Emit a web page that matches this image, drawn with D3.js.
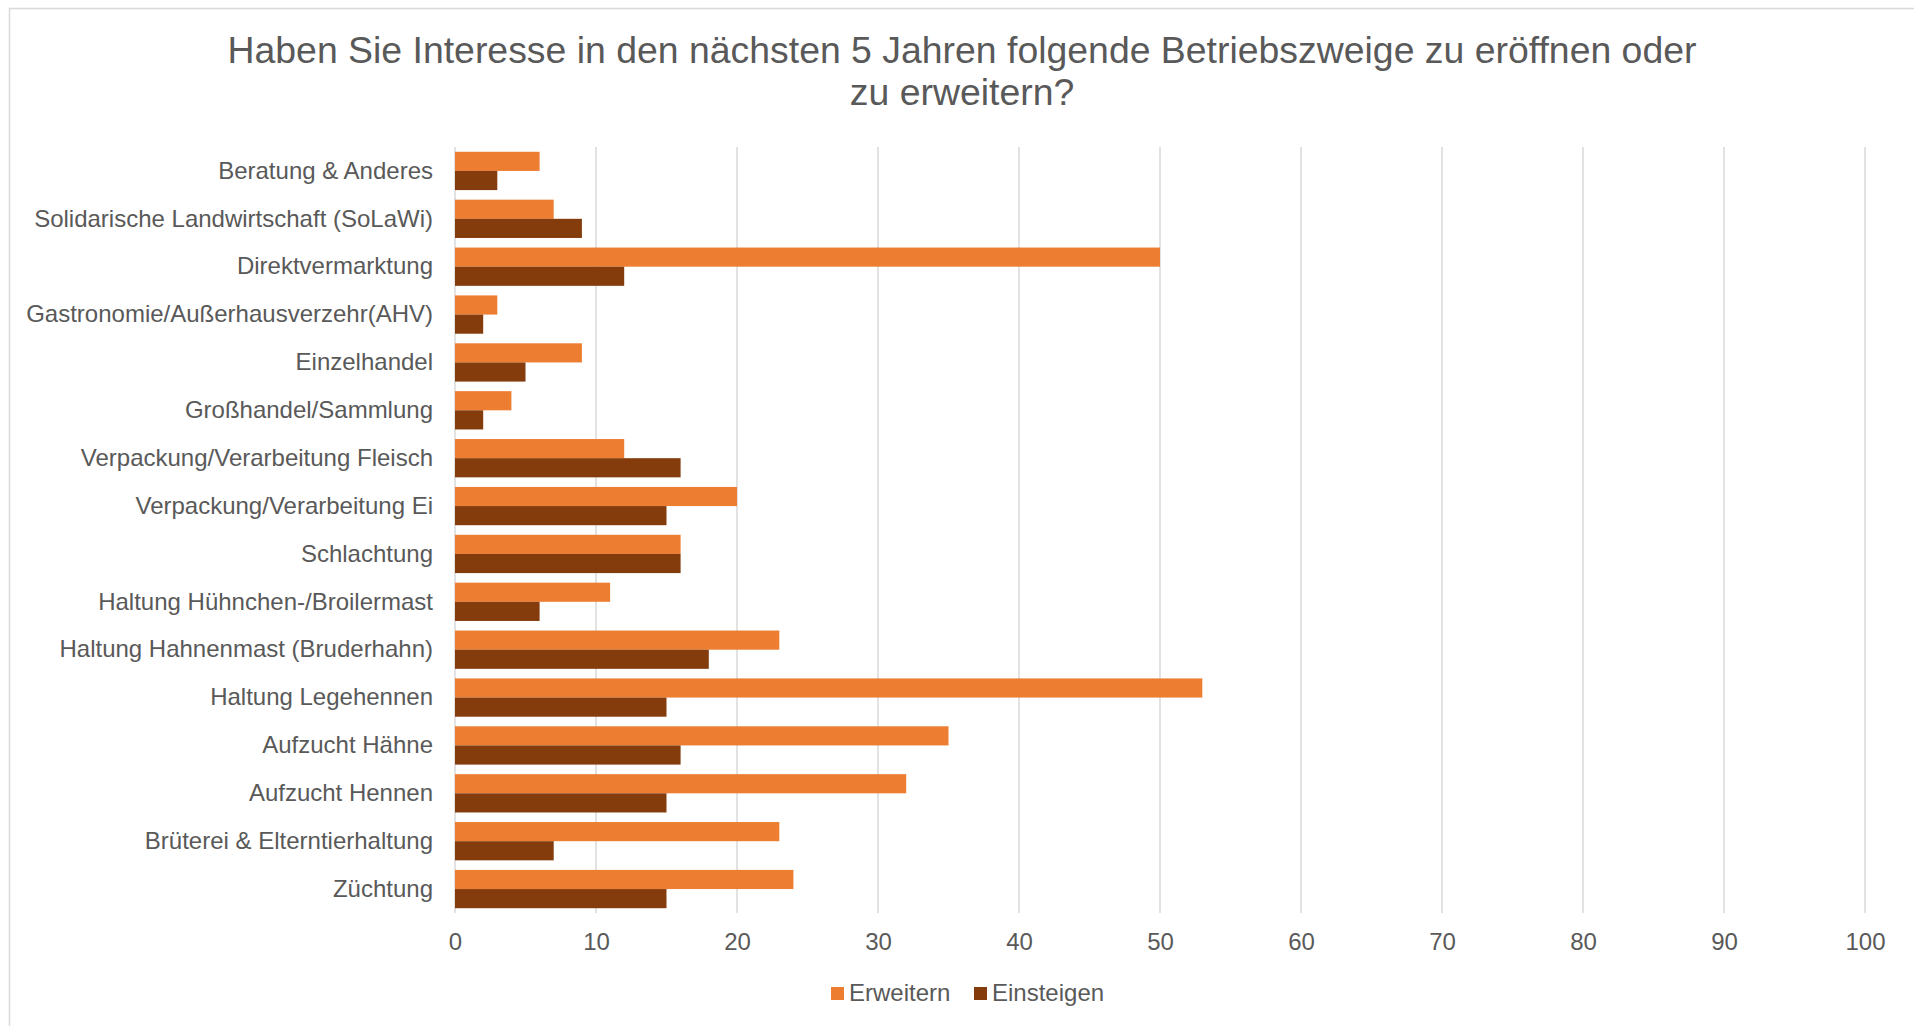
<!DOCTYPE html>
<html lang="de">
<head>
<meta charset="utf-8">
<title>Interesse an Betriebszweigen</title>
<script src="https://cdn.jsdelivr.net/npm/d3@7"></script>
<style>
  html, body { margin: 0; padding: 0; background: #fff; }
  svg { display: block; font-family: "Liberation Sans", Arial, sans-serif; }
</style>
</head>
<body>
<svg id="chart" width="1914" height="1026"></svg>
<script>
// Categories, top to bottom
const categories = [
  "Beratung & Anderes",
  "Solidarische Landwirtschaft (SoLaWi)",
  "Direktvermarktung",
  "Gastronomie/Außerhausverzehr(AHV)",
  "Einzelhandel",
  "Großhandel/Sammlung",
  "Verpackung/Verarbeitung Fleisch",
  "Verpackung/Verarbeitung Ei",
  "Schlachtung",
  "Haltung Hühnchen-/Broilermast",
  "Haltung Hahnenmast (Bruderhahn)",
  "Haltung Legehennen",
  "Aufzucht Hähne",
  "Aufzucht Hennen",
  "Brüterei & Elterntierhaltung",
  "Züchtung"
];

// Number of answers per category
const erweitern  = [6, 7, 50, 3, 9, 4, 12, 20, 16, 11, 23, 53, 35, 32, 23, 24];
const einsteigen = [3, 9, 12, 2, 5, 2, 16, 15, 16, 6, 18, 15, 16, 15, 7, 15];

const seriesNames = ["Erweitern", "Einsteigen"];
const xTicks = [0, 10, 20, 30, 40, 50, 60, 70, 80, 90, 100];
const titleLines = [
  "Haben Sie Interesse in den nächsten 5 Jahren folgende Betriebszweige zu eröffnen oder",
  "zu erweitern?"
];

const colors = { Erweitern: "#ED7D31", Einsteigen: "#843C0C" };
const textColor = "#595959";
const gridColor = "#D9D9D9";

const svg = d3.select("#chart");

// Chart frame
svg.append("rect")
  .attr("x", 9.5).attr("y", 8.5)
  .attr("width", 1950).attr("height", 1100)
  .attr("fill", "#fff")
  .attr("stroke", "#D9D9D9")
  .attr("stroke-width", 1.5);

// Title
svg.append("text")
  .attr("x", 962).attr("y", 63)
  .attr("text-anchor", "middle")
  .attr("fill", textColor)
  .style("font-size", "37.4px")
  .selectAll("tspan")
  .data(titleLines)
  .join("tspan")
  .attr("x", 962)
  .attr("dy", (d, i) => i === 0 ? 0 : 42)
  .text(d => d);

const plot = { left: 455, right: 1865, top: 147, bottom: 913 };

const x = d3.scaleLinear().domain([0, 100]).range([plot.left, plot.right]);
const y = d3.scaleBand().domain(categories)
  .range([plot.top, plot.bottom])
  .paddingInner(0.2).paddingOuter(0.1);
const ySub = d3.scaleBand().domain(seriesNames).range([0, y.bandwidth()]);

// Vertical gridlines
svg.append("g")
  .selectAll("line")
  .data(xTicks)
  .join("line")
  .attr("x1", d => x(d)).attr("x2", d => x(d))
  .attr("y1", plot.top).attr("y2", plot.bottom)
  .attr("stroke", gridColor)
  .attr("stroke-width", 1.5);

// Bars
const rows = categories.map((c, i) => ({
  category: c,
  values: [
    { series: "Erweitern", value: erweitern[i] },
    { series: "Einsteigen", value: einsteigen[i] }
  ]
}));

svg.append("g")
  .selectAll("g")
  .data(rows)
  .join("g")
  .attr("transform", d => `translate(0,${y(d.category)})`)
  .selectAll("rect")
  .data(d => d.values)
  .join("rect")
  .attr("x", x(0))
  .attr("y", d => ySub(d.series))
  .attr("width", d => x(d.value) - x(0))
  .attr("height", ySub.bandwidth())
  .attr("fill", d => colors[d.series]);

// Category axis
const yAxis = svg.append("g")
  .attr("transform", `translate(${plot.left},0)`)
  .call(d3.axisLeft(y).tickSize(0).tickPadding(22));
yAxis.select(".domain").remove();
yAxis.selectAll("text")
  .attr("fill", textColor)
  .style("font-size", "24px")
  .style("font-family", '"Liberation Sans", Arial, sans-serif');

// Value axis
const xAxis = svg.append("g")
  .attr("transform", `translate(0,${plot.bottom})`)
  .call(d3.axisBottom(x).tickValues(xTicks).tickSize(0).tickPadding(20));
xAxis.select(".domain").remove();
xAxis.selectAll("text")
  .attr("fill", textColor)
  .style("font-size", "24px")
  .style("font-family", '"Liberation Sans", Arial, sans-serif');

// Legend
const legendItems = [
  { name: "Erweitern", x: 831 },
  { name: "Einsteigen", x: 974 }
];
const legend = svg.append("g");
legend.selectAll("rect")
  .data(legendItems)
  .join("rect")
  .attr("x", d => d.x).attr("y", 987)
  .attr("width", 13).attr("height", 13)
  .attr("fill", d => colors[d.name]);
legend.selectAll("text")
  .data(legendItems)
  .join("text")
  .attr("x", d => d.x + 18).attr("y", 1001)
  .attr("fill", textColor)
  .style("font-size", "24px")
  .text(d => d.name);
</script>
</body>
</html>
